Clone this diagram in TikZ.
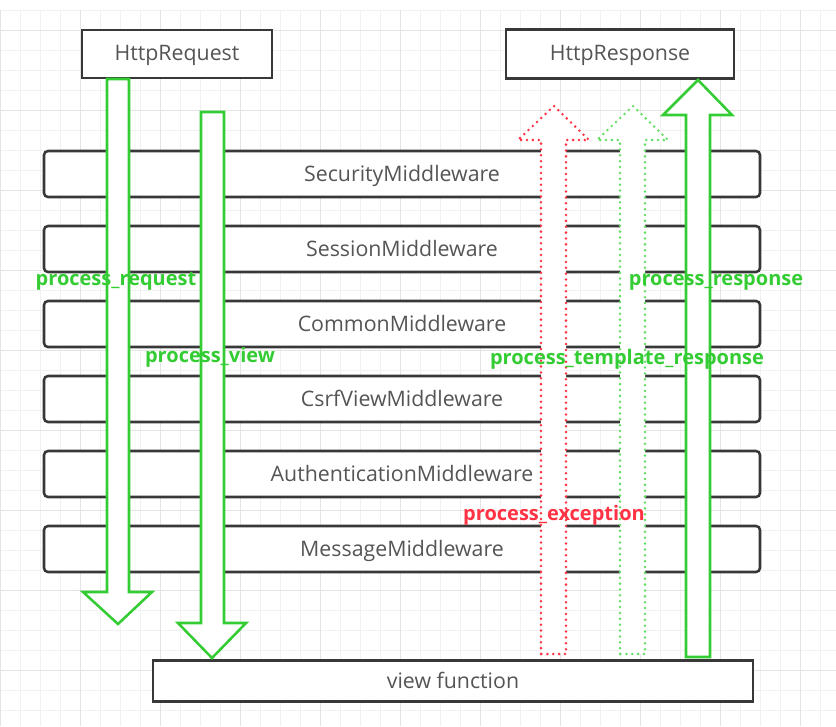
\documentclass[tikz,border=0pt]{standalone}
\usepackage{fontspec}
\setmainfont{Open Sans}
\usetikzlibrary{positioning}

\definecolor{gridminor}{HTML}{F1F1F1}
\definecolor{gridmajor}{HTML}{E4E4E4}
\definecolor{boxline}{HTML}{383838}
\definecolor{boxtext}{HTML}{555555}
\definecolor{hookgreen}{HTML}{33CC33}
\definecolor{hookgreenlight}{HTML}{66DD66}
\definecolor{hookred}{HTML}{FF3344}

\begin{document}
\begin{tikzpicture}[x=0.75pt, y=-0.75pt,
  plainbox/.style={draw=boxline, line width=1.9pt, fill=white, text=boxtext, outer sep=0,
    font=\fontsize{16}{18}\selectfont, text depth=1pt},
  layer/.style={plainbox, rounded corners=3pt, minimum width=537pt, minimum height=34.5pt},
  solidflow/.style={draw=hookgreen, line width=1.9pt, fill=white, line join=miter},
  dotflow/.style={line width=2.1pt, fill=white, line cap=round, dash pattern=on 0pt off 4.4pt},
  hook/.style={font=\bfseries\fontsize{15}{17}\selectfont, text=hookgreen, inner sep=0}]

  \useasboundingbox (0,0) rectangle (836,726);

  % background grid
  \begin{scope}[shift={(0,10)}]
    \clip (0,0) rectangle (836,716);
    \draw[gridminor, line width=0.6pt, xstep=15pt, ystep=15pt] (0,0) grid (836,716);
  \end{scope}
  \begin{scope}[shift={(0,30)}]
    \clip (0,-20) rectangle (836,696);
    \draw[gridmajor, line width=0.7pt, xstep=60pt, ystep=60pt] (0,-20) grid (836,696);
  \end{scope}

  % request / response
  \node[plainbox, minimum width=142.5pt, minimum height=36pt] (request) at (177,54) {HttpRequest};
  \node[plainbox, minimum width=171pt, minimum height=36.75pt] (response) at (620,54) {HttpResponse};

  % middleware stack
  \node[layer] (security) at (402,174) {SecurityMiddleware};
  \node[layer, below=21.75pt of security] (session) {SessionMiddleware};
  \node[layer, below=21.75pt of session] (common) {CommonMiddleware};
  \node[layer, below=21.75pt of common] (csrf) {CsrfViewMiddleware};
  \node[layer, below=21.75pt of csrf] (auth) {AuthenticationMiddleware};
  \node[layer, below=21.75pt of auth] (message) {MessageMiddleware};

  \node[plainbox, minimum width=450pt, minimum height=30.75pt] (view) at (453,681) {view function};

  % request phase
  \draw[solidflow] (107,79) -- (107,592) -- (83,592) -- (118,624) -- (152,592) -- (129,592) -- (129,79) -- cycle;
  \draw[solidflow] (201,112) -- (201,623) -- (178,623) -- (212,658) -- (246,623) -- (224,623) -- (224,112) -- cycle;

  % response phase
  \draw[dotflow, draw=hookred] (541,654) -- (541,140) -- (518,140) -- (554,106) -- (589,140) -- (566,140) -- (566,654) -- cycle;
  \draw[dotflow, draw=hookgreenlight] (620,654) -- (620,140) -- (597,140) -- (633,106) -- (668,140) -- (645,140) -- (645,654) -- cycle;
  \draw[solidflow] (686,657) -- (686,115) -- (663,115) -- (698,80) -- (732,115) -- (710,115) -- (710,657) -- cycle;

  % hook names
  \node[hook] (p request) at (116,281) {process\_request};
  \node[hook] (p view) at (210,357) {process\_view};
  \node[hook] (p response) at (716,282) {process\_response};
  \node[hook] (p template) at (627,359) {process\_template\_response};
  \node[hook, text=hookred] (p exception) at (554,515) {process\_exception};
\end{tikzpicture}
\end{document}
